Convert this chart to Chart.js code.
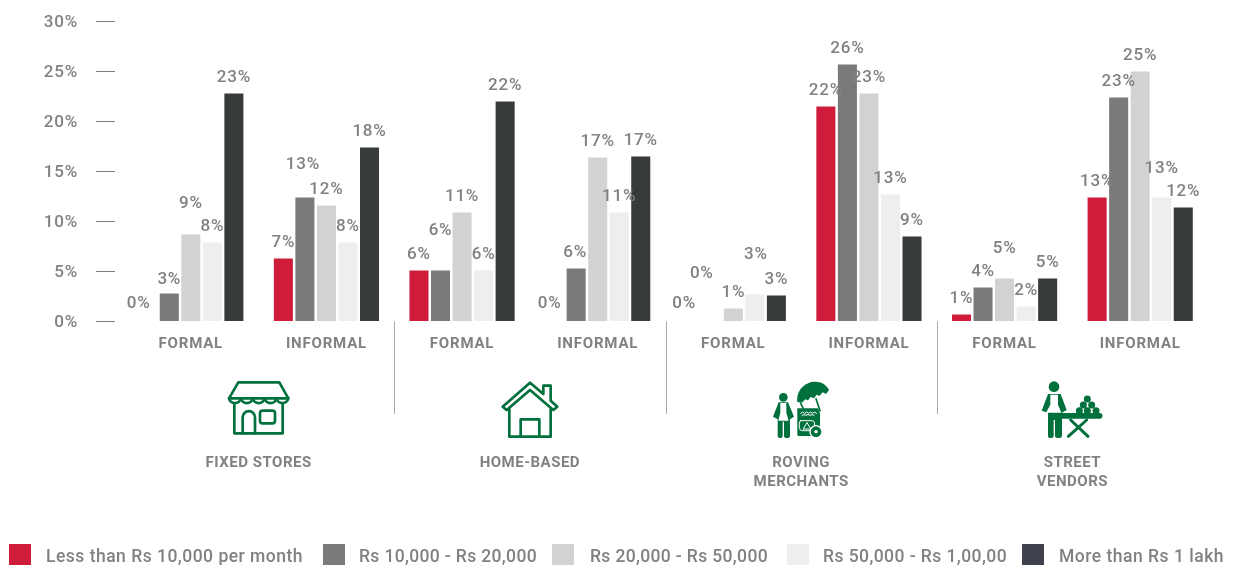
<!DOCTYPE html>
<html>
<head>
<meta charset="utf-8">
<title>Income bands by retail format</title>
<script src="https://cdn.jsdelivr.net/npm/chart.js@4/dist/chart.umd.min.js"></script>
<style>
  html, body { margin: 0; padding: 0; background: #fff; overflow: hidden; }
  canvas { display: block; }
</style>
</head>
<body>
<canvas id="grafica" width="1234" height="565"></canvas>
<script>
// Data
const categorias = ["FORMAL", "INFORMAL", "FORMAL", "INFORMAL", "FORMAL", "INFORMAL", "FORMAL", "INFORMAL"];
const grupos = [["FIXED STORES"], ["HOME-BASED"], ["ROVING", "MERCHANTS"], ["STREET", "VENDORS"]];
const bandas = ["Less than Rs 10,000 per month", "Rs 10,000 - Rs 20,000", "Rs 20,000 - Rs 50,000", "Rs 50,000 - Rs 1,00,00", "More than Rs 1 lakh"];

const menos10k = [0, 6.3, 5.1, 0, 0, 21.5, 0.7, 12.4];
const de10a20k = [2.8, 12.4, 5.1, 5.3, 0, 25.7, 3.4, 22.4];
const de20a50k = [8.7, 11.6, 10.9, 16.4, 1.3, 22.8, 4.3, 25];
const de50kA1l = [7.9, 7.9, 5.1, 10.9, 2.7, 12.7, 1.5, 12.4];
const mas1lakh = [22.8, 17.4, 22, 16.5, 2.6, 8.5, 4.3, 11.4];

// The printed labels are whole numbers, the bars are not
const etiq10k = [0, 7, 6, 0, 0, 22, 1, 13];
const etiq20k = [3, 13, 6, 6, 0, 26, 4, 23];
const etiq50k = [9, 12, 11, 17, 1, 23, 5, 25];
const etiq1l = [8, 8, 6, 11, 3, 13, 2, 13];
const etiqMas = [23, 18, 22, 17, 3, 9, 5, 12];

const series = [menos10k, de10a20k, de20a50k, de50kA1l, mas1lakh];
const etiquetas = [etiq10k, etiq20k, etiq50k, etiq1l, etiqMas];

const coloresBarra = ["#ce1c3a", "#7a7a7a", "#d1d2d4", "#eeeeee", "#373b3b"];
const coloresLeyenda = ["#ce1c3a", "#7a7a7a", "#d1d2d4", "#eeeeee", "#3f424d"];
const GRIS = "#808182";
const VERDE = "#00703c";
const FUENTE = "Roboto, sans-serif";

// Labels moved by hand in the original so they don't collide: "categoria,serie": [dx, dy]
const ajustes = {
  "0,0": [-9, -2], "0,1": [0, 1.5], "0,2": [0, -15],
  "1,1": [-2, -17],
  "2,1": [0, -24],
  "3,0": [-5, -2], "3,1": [-1, 0],
  "4,0": [-6, -2], "4,1": [-10, -32.5], "4,3": [1, -24],
  "6,2": [0, -14.5],
  "7,3": [0, -13.5]
};

// Legend layout: swatch left, text left, text width
const leyendaX = [[9, 46, 257], [323, 359, 178], [552, 590, 178], [787, 823, 184], [1022, 1059, 165]];

function textoAjustado(ctx, txt, x, y, ancho) {
  ctx.letterSpacing = "0px";
  let extra = (ancho - ctx.measureText(txt).width) / txt.length;
  ctx.letterSpacing = extra.toFixed(3) + "px";
  ctx.fillText(txt, x, y);
}

// Icons, traced at 3x around the given origin
function trazar(ctx, ox, oy, fn) {
  ctx.save();
  ctx.translate(ox, oy);
  ctx.scale(1 / 3, 1 / 3);
  ctx.lineJoin = "round";
  ctx.lineCap = "round";
  ctx.strokeStyle = VERDE;
  ctx.fillStyle = VERDE;
  fn(ctx);
  ctx.restore();
}
function circulo(ctx, x, y, r, color) {
  ctx.fillStyle = color;
  ctx.beginPath();
  ctx.arc(x, y, r, 0, Math.PI * 2);
  ctx.fill();
}
function iconoTienda(ctx) {
  ctx.lineWidth = 8;
  ctx.stroke(new Path2D("M115 37H238L265 85H87Z"));
  ctx.stroke(new Path2D("M87 85a18 17 0 0 0 35.6 0a18 17 0 0 0 35.6 0a18 17 0 0 0 35.6 0a18 17 0 0 0 35.6 0a18 17 0 0 0 35.6 0"));
  ctx.stroke(new Path2D("M103 105V190H248V105"));
  ctx.stroke(new Path2D("M128 190V142a18.5 18.5 0 0 1 37 0V190"));
  ctx.stroke(new Path2D("M188 122H217a8 8 0 0 1 8 8V152a8 8 0 0 1 -8 8H188a8 8 0 0 1 -8 -8V130a8 8 0 0 1 8 -8Z"));
}
function iconoCasa(ctx) {
  ctx.lineWidth = 8;
  ctx.stroke(new Path2D("M908 110L990 38L1030 72V47H1052V92L1072 110L1060 120L990 60L920 120Z"));
  ctx.stroke(new Path2D("M928 118V200H1052V118"));
  ctx.stroke(new Path2D("M962 200V148H1018V200"));
}
function iconoAmbulante(ctx) {
  circulo(ctx, 130, 82, 13, VERDE);
  ctx.fillStyle = VERDE;
  ctx.fill(new Path2D("M116 97H144L162 140L150 148V197Q150 204 141 204Q132 204 132 197V155H128V197Q128 204 120 204Q113 204 113 197V148L99 140Z"));
  ctx.fillStyle = "#fff";
  ctx.fill(new Path2D("M121 99H139V128L146 152H115L121 128Z"));
  ctx.fillStyle = VERDE;
  ctx.fill(new Path2D("M172 96C168 58 198 35 225 35C245 35 260 45 267 60L258 72L248 67L238 78L230 74L222 85L212 81L204 91L196 88L186 98Z"));
  ctx.lineWidth = 5;
  ctx.beginPath(); ctx.moveTo(228, 86); ctx.lineTo(240, 122); ctx.stroke();
  ctx.beginPath(); ctx.moveTo(182, 100); ctx.lineTo(190, 116); ctx.stroke();
  ctx.fillStyle = VERDE;
  ctx.fill(new Path2D("M172 115H234L240 130V198H176Q172 198 172 194Z"));
  ctx.strokeStyle = "#fff";
  ctx.lineWidth = 3;
  ctx.stroke(new Path2D("M182 130q6 -8 12 0q6 -8 12 0q6 -8 12 0q6 -8 12 0M186 136q6 -5 12 0q6 -5 12 0q6 -5 12 0"));
  ctx.stroke(new Path2D("M182 152H216Q224 152 224 162V172Q224 182 214 182H186Q178 182 178 172V162Q178 152 182 152ZM190 176L201 158L212 176Z"));
  circulo(ctx, 228, 185, 20, "#fff");
  circulo(ctx, 228, 185, 16, VERDE);
  circulo(ctx, 228, 185, 5, "#fff");
}
function iconoVendedor(ctx) {
  circulo(ctx, 942, 50, 16, VERDE);
  ctx.fillStyle = VERDE;
  ctx.fill(new Path2D("M924 72H962L980 120L966 128V197Q966 204 955 204Q945 204 945 197V150H941V197Q941 204 932 204Q924 204 924 197V128L905 122Z"));
  ctx.fillStyle = "#fff";
  ctx.fill(new Path2D("M931 74H954V104L964 128H918L931 104Z"));
  ctx.fillStyle = VERDE;
  ctx.fill(new Path2D("M950 129H1079a8 8 0 0 1 0 17H950a8 8 0 0 1 0 -17Z"));
  [[1042, 87], [1030, 105], [1055, 105], [1018, 122], [1042, 122], [1068, 122]].forEach(p => circulo(ctx, p[0], p[1], 10.5, VERDE));
  ctx.lineWidth = 9;
  ctx.beginPath(); ctx.moveTo(992, 150); ctx.lineTo(1044, 199); ctx.stroke();
  ctx.beginPath(); ctx.moveTo(1040, 150); ctx.lineTo(985, 199); ctx.stroke();
}

// Value labels, separators, group names, icons and the legend
const decoracion = {
  id: "decoracion",
  beforeDraw(chart) {
    // the original face runs wider than Roboto
    chart.ctx.letterSpacing = "0.8px";
  },
  afterDatasetsDraw(chart) {
    const ctx = chart.ctx;
    const x = chart.scales.x;
    ctx.save();
    ctx.font = "500 17px " + FUENTE;
    ctx.fillStyle = GRIS;
    ctx.textAlign = "center";
    ctx.textBaseline = "middle";
    etiquetas.forEach((fila, s) => {
      const barras = chart.getDatasetMeta(s).data;
      fila.forEach((v, c) => {
        const aj = ajustes[c + "," + s] || [0, 0];
        ctx.fillText(v + "%", barras[c].x + aj[0], barras[c].y - 15.5 + aj[1]);
      });
    });

    // separators between the four formats
    ctx.strokeStyle = "#a9a9a9";
    ctx.lineWidth = 1;
    [1, 3, 5].forEach(i => {
      const sx = Math.round((x.getPixelForValue(i) + x.getPixelForValue(i + 1)) / 2) + 0.5;
      ctx.beginPath();
      ctx.moveTo(sx, chart.chartArea.bottom);
      ctx.lineTo(sx, 414);
      ctx.stroke();
    });

    // format names
    ctx.font = "bold 15px " + FUENTE;
    ctx.letterSpacing = "0.5px";
    grupos.forEach((lineas, g) => {
      const cx = (x.getPixelForValue(g * 2) + x.getPixelForValue(g * 2 + 1)) / 2;
      lineas.forEach((t, l) => ctx.fillText(t, cx, 463.5 + l * 19));
    });

    trazar(ctx, 200, 370, iconoTienda);
    trazar(ctx, 200, 370, iconoCasa);
    trazar(ctx, 740, 370, iconoAmbulante);
    trazar(ctx, 740, 370, iconoVendedor);

    // legend
    ctx.font = "500 17.5px " + FUENTE;
    ctx.textAlign = "left";
    bandas.forEach((b, i) => {
      ctx.fillStyle = coloresLeyenda[i];
      ctx.fillRect(leyendaX[i][0], 544, 22, 21);
      ctx.fillStyle = GRIS;
      textoAjustado(ctx, b, leyendaX[i][1], 558, leyendaX[i][2]);
    });
    ctx.restore();
  }
};

var ctx = document.getElementById("grafica").getContext("2d");
var grafica = new Chart(ctx, {
  type: "bar",
  data: {
    labels: categorias,
    datasets: series.map((valores, i) => ({
      label: bandas[i],
      data: valores,
      backgroundColor: coloresBarra[i],
      categoryPercentage: 0.794,
      barPercentage: 0.884
    }))
  },
  options: {
    responsive: false,
    animation: false,
    devicePixelRatio: 1,
    layout: { autoPadding: false, padding: { top: 21.5, right: 26, bottom: 193.5, left: 0 } },
    plugins: { legend: { display: false }, tooltip: { enabled: false } },
    scales: {
      x: {
        afterFit(scale) { scale.height = 50; },
        border: { display: false },
        grid: { display: false },
        ticks: {
          color: GRIS,
          padding: 6,
          maxRotation: 0,
          autoSkip: false,
          font: { family: FUENTE, size: 15, weight: "bold" }
        }
      },
      y: {
        min: 0,
        max: 30,
        afterFit(scale) {
          scale.width = 123;
          // ticks.padding also feeds the top padding, which would push the chart area down
          scale.paddingTop = 0;
          scale.paddingBottom = 0;
        },
        beforeUpdate(scale) {
          // tick labels sit a little low in the original, level with the marks
          if (scale._bajado) return;
          scale._bajado = true;
          const original = scale._computeLabelItems;
          scale._computeLabelItems = function (area) {
            return original.call(this, area).map(it => { it.textOffset += 1.5; return it; });
          };
        },
        border: { display: false },
        grid: {
          drawOnChartArea: false,
          tickLength: 27,
          tickColor: "#7f7f7f",
          tickBorderDash: [19, 30]
        },
        ticks: {
          stepSize: 5,
          color: GRIS,
          padding: 18,
          font: { family: FUENTE, size: 17, weight: "500" },
          callback: v => v + "%"
        }
      }
    }
  },
  plugins: [decoracion]
});
</script>
</body>
</html>
